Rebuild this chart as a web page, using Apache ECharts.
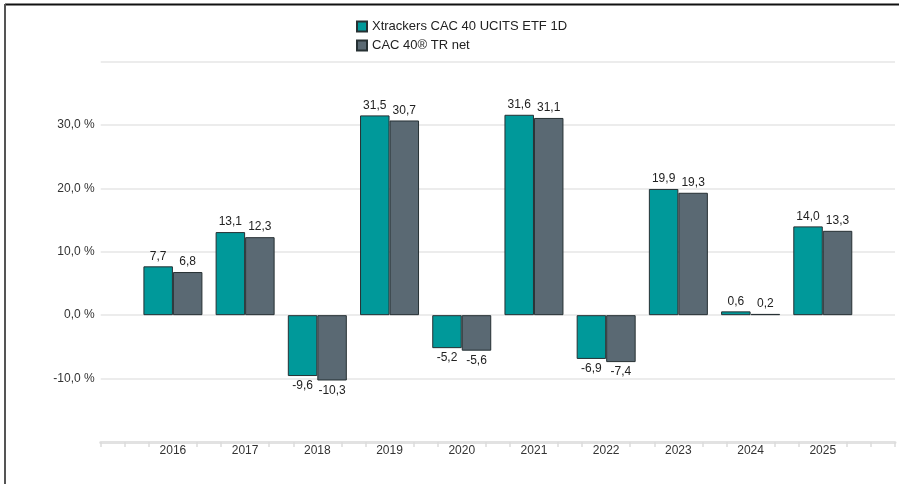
<!DOCTYPE html>
<html>
<head>
<meta charset="utf-8">
<script src="https://cdn.jsdelivr.net/npm/echarts@6/dist/echarts.min.js"></script>
<style>
html,body{margin:0;padding:0;background:#fff;}
#c{width:899px;height:484px;}
</style>
</head>
<body>
<div id="c"></div>
<script>
const years = ['2016','2017','2018','2019','2020','2021','2022','2023','2024','2025'];
const etfValues = [7.7, 13.1, -9.6, 31.5, -5.2, 31.6, -6.9, 19.9, 0.6, 14.0];
const indexValues = [6.8, 12.3, -10.3, 30.7, -5.6, 31.1, -7.4, 19.3, 0.2, 13.3];
const seriesNames = ['Xtrackers CAC 40 UCITS ETF 1D', 'CAC 40® TR net'];
const yMin = -20, yMax = 40, yStep = 10;
const yLabelValues = [-10, 0, 10, 20, 30];

const FONT = '"Liberation Sans", Arial, Helvetica, sans-serif';
const firstYear = Number(years[0]) - 1;
const lastYear = Number(years[years.length - 1]) + 1;
// axis slots: every third of a year between firstYear and lastYear
const slots = [];
for (let y = firstYear; y <= lastYear; y++) {
  slots.push(String(y));
  if (y < lastYear) { slots.push(y + '+1'); slots.push(y + '+2'); }
}
const fmt = v => v.toFixed(1).replace('.', ',');
function build(values) {
  const arr = slots.map(() => '-');
  years.forEach((y, i) => {
    const v = values[i];
    arr[(Number(y) - firstYear) * 3] = {
      value: v,
      label: { position: v < 0 ? 'bottom' : 'top' }
    };
  });
  return arr;
}
const last = slots.length - 1;

const chart = echarts.init(document.getElementById('c'), null, { renderer: 'canvas' });
chart.setOption({
  animation: false,
  backgroundColor: '#fff',
  textStyle: { fontFamily: FONT },
  graphic: [
    { type: 'line', shape: { x1: 5, y1: 4.5, x2: 899, y2: 4.5 }, style: { stroke: '#111', lineWidth: 2 }, z: 100 },
    { type: 'line', shape: { x1: 5, y1: 4, x2: 5, y2: 484 }, style: { stroke: '#555', lineWidth: 2 }, z: 100 }
  ],
  legend: {
    orient: 'vertical',
    left: 351,
    top: 15,
    icon: 'rect',
    itemWidth: 10,
    itemHeight: 10,
    itemGap: 6,
    textStyle: { fontSize: 13, color: '#222', fontFamily: FONT },
    data: seriesNames
  },
  grid: { left: 100.7, right: 4, top: 61.5, bottom: 42, containLabel: false },
  xAxis: {
    type: 'category',
    data: slots,
    boundaryGap: false,
    axisLine: { show: true, onZero: false, lineStyle: { color: '#e2e2e2', width: 3 } },
    axisTick: {
      show: true,
      length: 5,
      interval: (i) => i % 3 !== 0 || i === 0 || i === last,
      lineStyle: { color: '#dcdcdc', width: 1.5 }
    },
    axisLabel: {
      interval: (i) => i % 3 === 0 && i > 0 && i < last,
      margin: 3,
      fontSize: 12,
      color: '#333',
      fontFamily: FONT
    },
    splitLine: { show: false }
  },
  yAxis: {
    type: 'value',
    min: yMin,
    max: yMax,
    interval: yStep,
    axisLine: { show: false },
    axisTick: { show: false },
    axisLabel: {
      margin: 6,
      fontSize: 12,
      color: '#333',
      fontFamily: FONT,
      formatter: v => yLabelValues.indexOf(v) >= 0 ? fmt(v) + ' %' : ''
    },
    splitLine: { show: true, lineStyle: { color: '#e6e6e6', width: 1.5 } }
  },
  series: [
    {
      name: seriesNames[0],
      type: 'bar',
      barWidth: 29.5,
      barGap: '0%',
      data: build(etfValues),
      itemStyle: { color: '#00999a', borderColor: '#263033', borderWidth: 1 },
      label: { show: true, distance: 4, fontSize: 12, color: '#222', fontFamily: FONT, formatter: p => fmt(p.value) }
    },
    {
      name: seriesNames[1],
      type: 'bar',
      barWidth: 29.5,
      barGap: '0%',
      data: build(indexValues),
      itemStyle: { color: '#5a6973', borderColor: '#263033', borderWidth: 1 },
      label: { show: true, distance: 4, fontSize: 12, color: '#222', fontFamily: FONT, formatter: p => fmt(p.value) }
    }
  ]
});
</script>
</body>
</html>
